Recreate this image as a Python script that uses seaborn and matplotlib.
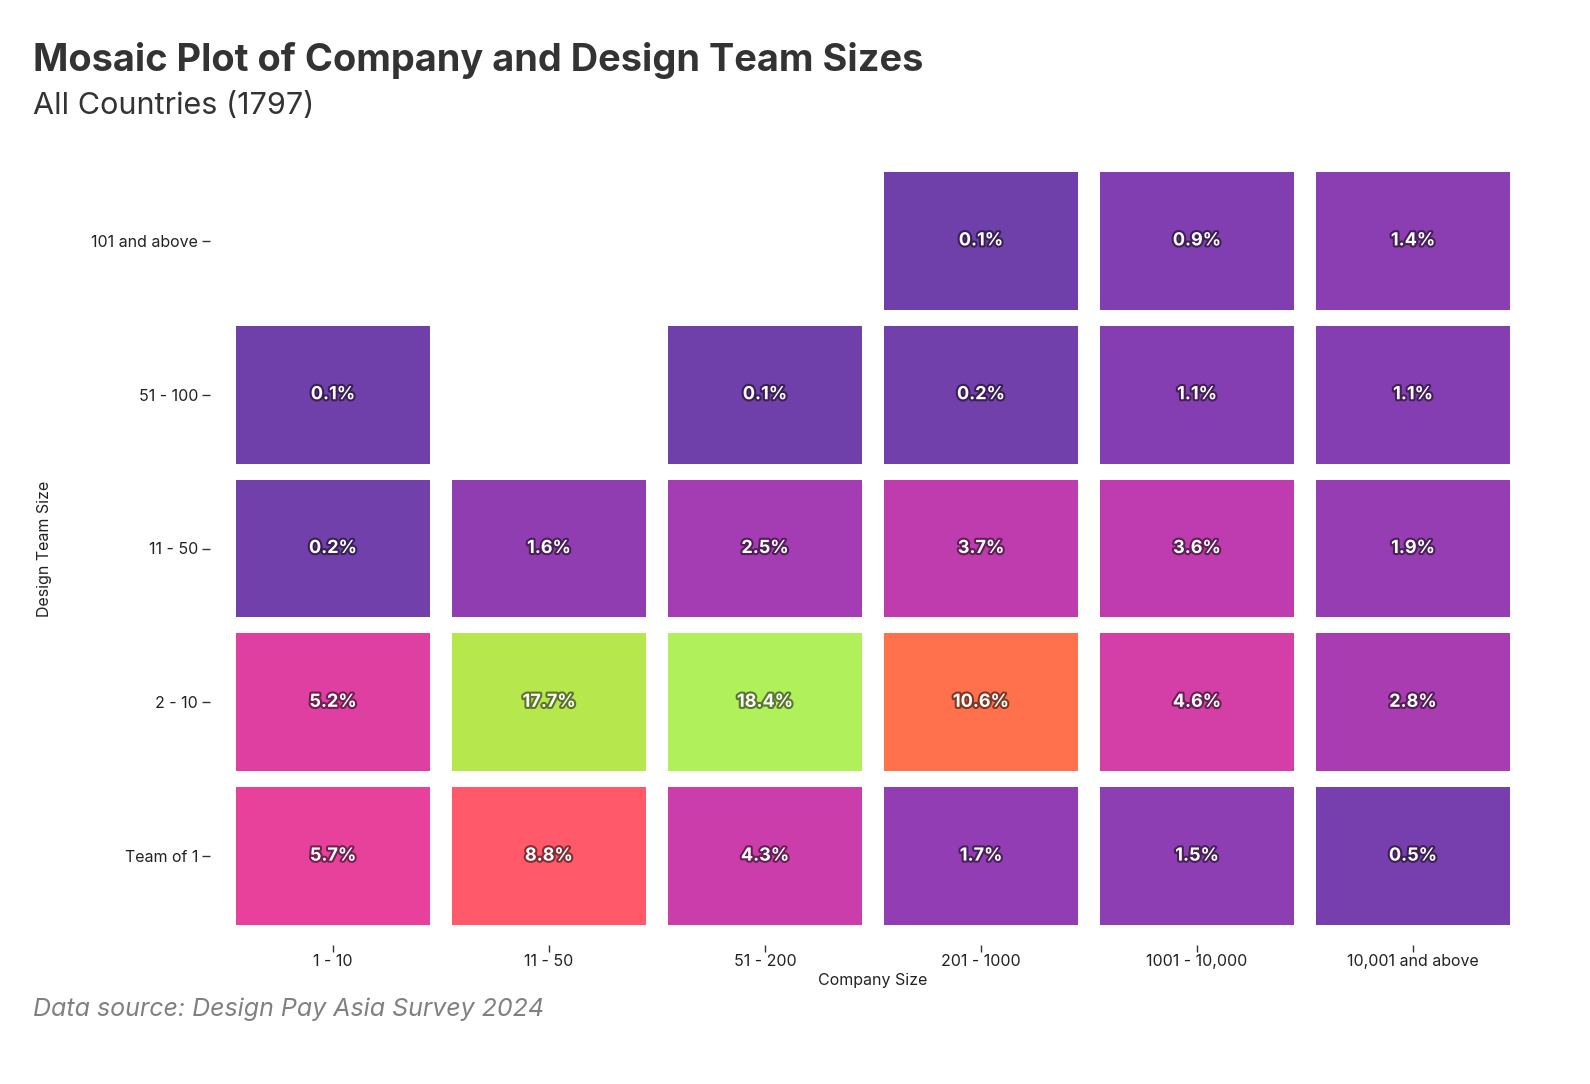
import matplotlib.pyplot as plt
import matplotlib.patheffects as pe
import numpy as np
import pandas as pd
import seaborn as sns
from matplotlib.colors import ListedColormap

company_sizes = ["1 - 10", "11 - 50", "51 - 200", "201 - 1000", "1001 - 10,000", "10,001 and above"]
team_sizes = ["101 and above", "51 - 100", "11 - 50", "2 - 10", "Team of 1"]

# share of respondents (%), rows follow team_sizes, columns follow company_sizes
row_101_plus = [np.nan, np.nan, np.nan, 0.1, 0.9, 1.4]
row_51_100 = [0.1, np.nan, 0.1, 0.2, 1.1, 1.1]
row_11_50 = [0.2, 1.6, 2.5, 3.7, 3.6, 1.9]
row_2_10 = [5.2, 17.7, 18.4, 10.6, 4.6, 2.8]
row_team_of_1 = [5.7, 8.8, 4.3, 1.7, 1.5, 0.5]

title = "Mosaic Plot of Company and Design Team Sizes"
subtitle = "All Countries (1797)"
source = "Data source: Design Pay Asia Survey 2024"

PX = 0.72  # points per pixel at dpi=100


def warm_cmap(n=256):
    # d3 interpolateWarm: cubehelix long from (-100, .75, .35) to (80, 1.5, .8)
    t = np.linspace(0, 1, n)
    h = np.radians(-100 + 180 * t + 120)
    s = 0.75 + 0.75 * t
    l = 0.35 + 0.45 * t
    a = s * l * (1 - l)
    c, sn = np.cos(h), np.sin(h)
    r = l + a * (-0.14861 * c + 1.78277 * sn)
    g = l + a * (-0.29227 * c - 0.90649 * sn)
    b = l + a * (1.97294 * c)
    rgb = np.clip(np.stack([r, g, b], axis=1), 0, 1)
    return ListedColormap(rgb)


df = pd.DataFrame(
    [row_101_plus, row_51_100, row_11_50, row_2_10, row_team_of_1],
    index=team_sizes,
    columns=company_sizes,
)
labels = df.map(lambda v: "" if np.isnan(v) else f"{v:.1f}%")

sns.set_style("white")
plt.rcParams["font.family"] = ["Inter", "DejaVu Sans"]

fig = plt.figure(figsize=(15.9, 10.84), dpi=100)
ax = fig.add_axes([225 / 1590, 1 - 933 / 1084, 1296 / 1590, 769 / 1084])

cmap = warm_cmap()
vmax = np.nanmax(df.values)
sns.heatmap(
    df, cmap=cmap, vmin=0, vmax=vmax, cbar=False,
    annot=labels, fmt="", linewidths=0, ax=ax,
    annot_kws={"fontsize": 13, "fontweight": "bold"},
)

# white gutters between the tiles
ax.vlines(np.arange(len(company_sizes) + 1), 0, len(team_sizes),
          colors="white", linewidth=22 * PX, zorder=2)
ax.hlines(np.arange(len(team_sizes) + 1), 0, len(company_sizes),
          colors="white", linewidth=16 * PX, zorder=2)

norm = plt.Normalize(0, vmax)
for txt in ax.texts:
    s = txt.get_text()
    if not s:
        continue
    rgb = np.array(cmap(norm(float(s.rstrip("%"))))[:3])
    txt.set_color("white")
    txt.set_zorder(4)
    txt.set_path_effects([pe.withStroke(linewidth=3, foreground=rgb * 0.5)])

for side in ["top", "right", "left", "bottom"]:
    ax.spines[side].set_visible(False)
ax.spines["left"].set_position(("outward", 15 * PX))
ax.spines["bottom"].set_position(("outward", 12 * PX))

ax.tick_params(axis="y", left=True, length=8 * PX, width=1, color="#333333",
               pad=4 * PX, labelsize=11.5, labelcolor="#222222", rotation=0)
ax.tick_params(axis="x", bottom=True, length=7 * PX, width=1, color="#333333",
               pad=2 * PX, labelsize=11.5, labelcolor="#222222", rotation=0)
ax.set_xlabel("Company Size", fontsize=11.5, color="#222222", labelpad=3)
ax.set_ylabel("Design Team Size", fontsize=11.5, color="#222222", labelpad=28)

fig.text(33 / 1590, 1 - 71 / 1084, title, fontsize=27.3, fontweight="bold",
         color="#333333", va="baseline", ha="left")
fig.text(33 / 1590, 1 - 114 / 1084, subtitle, fontsize=22,
         color="#333333", va="baseline", ha="left")
fig.text(33 / 1590, 1 - 1016 / 1084, source, fontsize=18, fontstyle="italic",
         color="#808080", va="baseline", ha="left")

fig.savefig("out.png", dpi=100, facecolor="white")
plt.close(fig)
